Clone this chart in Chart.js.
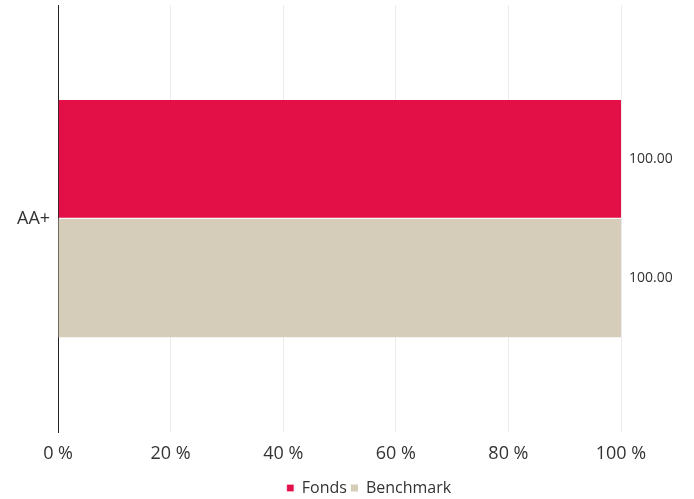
<!DOCTYPE html>
<html>
<head>
<meta charset="utf-8">
<script src="https://cdn.jsdelivr.net/npm/chart.js@4"></script>
<style>
  html, body { margin: 0; padding: 0; background: #fff; }
  #wrap { width: 694px; height: 499px; }
</style>
</head>
<body>
<div id="wrap"><canvas id="chart"></canvas></div>
<script>
const categories = ['AA+'];
const fondsValues = [100];
const benchmarkValues = [100];
const xTicks = [0, 20, 40, 60, 80, 100];

// labels drawn to the right of each bar
const barLabels = {
    id: 'barLabels',
    afterDatasetsDraw(chart) {
        const ctx = chart.ctx;
        ctx.save();
        ctx.font = '14px "Open Sans", sans-serif';
        ctx.fillStyle = '#333';
        ctx.textBaseline = 'middle';
        chart.data.datasets.forEach((ds, i) => {
            chart.getDatasetMeta(i).data.forEach((bar, j) => {
                ctx.fillText(ds.data[j].toFixed(2), bar.x + 8, bar.y);
            });
        });
        ctx.restore();
    }
};

// the legend sits a bit right of centre in the original
const shiftLegend = {
    id: 'shiftLegend',
    afterLayout(chart) {
        chart.legend.left += 54;
        chart.legend.right += 54;
    }
};

new Chart(document.getElementById('chart'), {
    type: 'bar',
    data: {
        labels: categories,
        datasets: [{
            label: 'Fonds',
            data: fondsValues,
            backgroundColor: '#E31048',
            borderColor: '#ffffff',
            borderWidth: { bottom: 1 },
            borderSkipped: false,
            barPercentage: 1,
            categoryPercentage: 0.555
        }, {
            label: 'Benchmark',
            data: benchmarkValues,
            backgroundColor: '#D5CDBA',
            borderWidth: 0,
            barPercentage: 1,
            categoryPercentage: 0.555
        }]
    },
    options: {
        indexAxis: 'y',
        responsive: true,
        maintainAspectRatio: false,
        animation: false,
        layout: {
            padding: { top: 5, right: 73, left: 9, bottom: -7 }
        },
        plugins: {
            legend: {
                position: 'bottom',
                labels: {
                    usePointStyle: true,
                    pointStyle: 'rect',
                    boxWidth: 7,
                    boxHeight: 7,
                    padding: 4,
                    color: '#333',
                    font: { family: '"Open Sans", sans-serif', size: 16 }
                }
            },
            tooltip: { enabled: false }
        },
        scales: {
            x: {
                min: 0,
                max: 100,
                afterBuildTicks: axis => { axis.ticks = xTicks.map(v => ({ value: v })); },
                ticks: {
                    color: '#333',
                    padding: 11,
                    font: { family: '"Open Sans", sans-serif', size: 18 },
                    callback: v => v + ' %'
                },
                grid: {
                    color: '#ebebeb',
                    drawTicks: false
                },
                border: { display: false }
            },
            y: {
                afterFit: s => { s.paddingTop = 0; s.paddingBottom = 0; },
                ticks: {
                    color: '#333',
                    padding: 8,
                    font: { family: '"Open Sans", sans-serif', size: 18 }
                },
                grid: { display: false, drawTicks: false },
                border: { display: true, color: '#222', width: 1 }
            }
        }
    },
    plugins: [barLabels, shiftLegend]
});
</script>
</body>
</html>
